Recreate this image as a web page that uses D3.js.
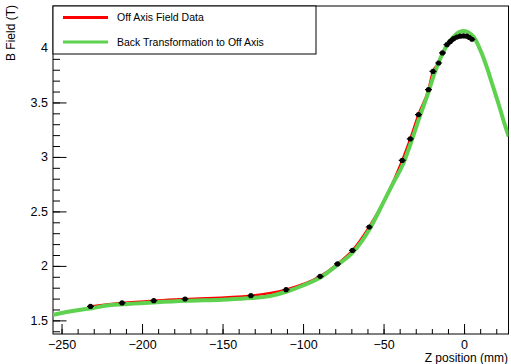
<!DOCTYPE html>
<html>
<head>
<meta charset="utf-8">
<script src="https://cdn.jsdelivr.net/npm/d3@7/dist/d3.min.js"></script>
<style>
  body { margin: 0; background: #fff; }
  svg { display: block; font-family: "Liberation Sans", Arial, sans-serif; }
</style>
</head>
<body>
<svg id="chart" width="511" height="364"></svg>
<script>
// measured field (black markers + red line)
const dataZ = [-232, -212.4, -192.7, -173.3, -132.4, -110.5, -89.4, -78.6, -69.3, -58.9,
  -38.4, -33.4, -28.3, -22.1, -19.3, -15.8, -13.4, -10.6, -8.5, -6.5, -4.5, -2.4, -0.3, 1.7, 3.3, 4.9];
const dataB = [1.628, 1.66, 1.681, 1.696, 1.727, 1.782, 1.904, 2.018, 2.142, 2.357,
  2.968, 3.165, 3.388, 3.617, 3.785, 3.862, 3.954, 4.03, 4.06, 4.085, 4.1, 4.108, 4.11, 4.108, 4.096, 4.08];

// back transformation (green line)
const backZ = [-255.3, -245, -236, -231, -222, -212, -193, -173, -150, -132, -120, -110, -100,
  -89, -79, -69, -59, -50, -44, -38, -33, -28, -22, -19, -16, -13, -10, -6, -3, 0, 3, 6, 10,
  14, 18, 22, 25, 27.8];
const backB = [1.552, 1.582, 1.603, 1.612, 1.636, 1.648, 1.665, 1.68, 1.69, 1.705, 1.725, 1.765,
  1.82, 1.895, 2.005, 2.125, 2.33, 2.585, 2.76, 2.93, 3.13, 3.35, 3.6, 3.74, 3.86, 3.96, 4.04,
  4.11, 4.145, 4.156, 4.14, 4.1, 3.985, 3.83, 3.645, 3.46, 3.31, 3.186];

const xMajor = [-250, -200, -150, -100, -50, 0];
const yMajor = [1.5, 2, 2.5, 3, 3.5, 4];
const legendLabels = ['Off Axis Field Data', 'Back Transformation to Off Axis'];

const frame = { left: 53, right: 508.5, top: 6, bottom: 334 };

const svg = d3.select('#chart');

const x = d3.scaleLinear().domain([-255.3, 27.6]).range([frame.left, frame.right]);
const y = d3.scaleLinear().domain([1.375, 4.385]).range([frame.bottom, frame.top]);

svg.append('clipPath').attr('id', 'clip')
  .append('rect')
  .attr('x', frame.left)
  .attr('y', frame.top)
  .attr('width', frame.right - frame.left)
  .attr('height', frame.bottom - frame.top);

// X axis, ticks pointing inward
const xMinor = d3.range(-250, 21, 10);
svg.append('g')
  .attr('transform', `translate(0, ${frame.bottom})`)
  .call(d3.axisTop(x).tickValues(xMinor).tickSize(5).tickFormat(''))
  .call(g => g.select('.domain').remove());
svg.append('g')
  .attr('transform', `translate(0, ${frame.bottom})`)
  .call(d3.axisTop(x).tickValues(xMajor).tickSize(10).tickFormat(d3.format('d')))
  .call(g => g.select('.domain').remove())
  .call(g => g.selectAll('text')
    .attr('y', 15)
    .attr('dy', 0)
    .attr('font-size', 12.5)
    .attr('fill', '#000')
    .text(d => d < 0 ? '\u2212' + Math.abs(d) : d));

// Y axis
const yMinor = d3.range(14, 44).map(v => v / 10);
svg.append('g')
  .attr('transform', `translate(${frame.left}, 0)`)
  .call(d3.axisRight(y).tickValues(yMinor).tickSize(7).tickFormat(''))
  .call(g => g.select('.domain').remove());
svg.append('g')
  .attr('transform', `translate(${frame.left}, 0)`)
  .call(d3.axisRight(y).tickValues(yMajor).tickSize(13.5).tickFormat(d3.format('')))
  .call(g => g.select('.domain').remove())
  .call(g => g.selectAll('text')
    .attr('x', -5)
    .attr('text-anchor', 'end')
    .attr('font-size', 12.5)
    .attr('fill', '#000'));

svg.selectAll('.tick line').attr('stroke', '#000');

// frame
svg.append('rect')
  .attr('x', frame.left)
  .attr('y', frame.top)
  .attr('width', frame.right - frame.left)
  .attr('height', frame.bottom - frame.top)
  .attr('fill', 'none')
  .attr('stroke', '#000')
  .attr('stroke-width', 1);

const plot = svg.append('g').attr('clip-path', 'url(#clip)');

const dataPts = dataZ.map((z, i) => ({ z, b: dataB[i] }));
const backPts = backZ.map((z, i) => ({ z, b: backB[i] }));

const line = d3.line()
  .x(d => x(d.z))
  .y(d => y(d.b))
  .curve(d3.curveMonotoneX);

// red data line
plot.append('path')
  .datum(dataPts)
  .attr('d', line)
  .attr('fill', 'none')
  .attr('stroke', '#ff0000')
  .attr('stroke-width', 2.5);

// green back transformation
plot.append('path')
  .datum(backPts)
  .attr('d', line)
  .attr('fill', 'none')
  .attr('stroke', '#5ed24f')
  .attr('stroke-width', 4);

// black markers
const marks = plot.append('g');
marks.selectAll('line')
  .data(dataPts)
  .enter()
  .append('line')
  .attr('x1', d => x(d.z) - 3.5)
  .attr('x2', d => x(d.z) + 3.5)
  .attr('y1', d => y(d.b))
  .attr('y2', d => y(d.b))
  .attr('stroke', '#000')
  .attr('stroke-width', 1.2);
marks.selectAll('circle')
  .data(dataPts)
  .enter()
  .append('circle')
  .attr('cx', d => x(d.z))
  .attr('cy', d => y(d.b))
  .attr('r', 2.6)
  .attr('fill', '#000');

// legend
const legend = svg.append('g');
legend.append('rect')
  .attr('x', frame.left)
  .attr('y', frame.top)
  .attr('width', 263)
  .attr('height', 48)
  .attr('fill', '#fff')
  .attr('stroke', '#000');

const legendColors = ['#ff0000', '#5ed24f'];
legendLabels.forEach((label, i) => {
  const ly = 17.5 + i * 24.5;
  legend.append('line')
    .attr('x1', 63).attr('x2', 108)
    .attr('y1', ly).attr('y2', ly)
    .attr('stroke', legendColors[i])
    .attr('stroke-width', 3);
  legend.append('text')
    .attr('x', 117)
    .attr('y', ly)
    .attr('dy', '0.35em')
    .attr('font-size', 10.5)
    .text(label);
});

// axis titles
svg.append('text')
  .attr('x', 508)
  .attr('y', 361.5)
  .attr('text-anchor', 'end')
  .attr('font-size', 12)
  .text('Z position (mm)');

svg.append('text')
  .attr('transform', 'translate(15, 5) rotate(-90)')
  .attr('text-anchor', 'end')
  .attr('font-size', 12)
  .text('B Field (T)');
</script>
</body>
</html>
